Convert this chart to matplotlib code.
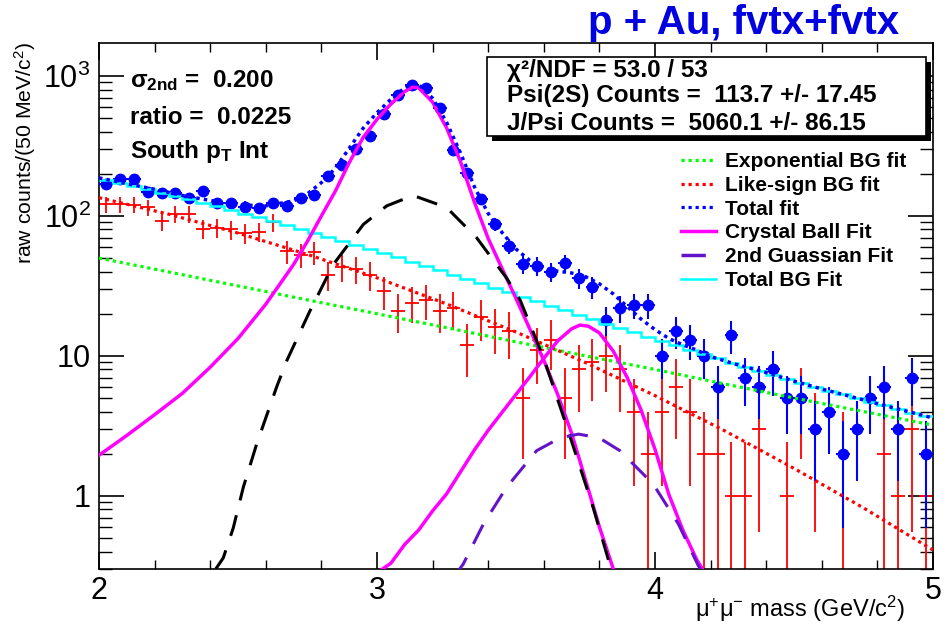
import numpy as np
import matplotlib
matplotlib.use('Agg')
import matplotlib.pyplot as plt
from matplotlib.patches import Rectangle
from matplotlib.lines import Line2D
from matplotlib.ticker import FixedLocator, FixedFormatter, MultipleLocator, LogLocator, NullFormatter

plt.rcParams['font.family'] = ['Liberation Sans', 'DejaVu Sans']
plt.rcParams['mathtext.fontset'] = 'custom'
plt.rcParams['mathtext.rm'] = 'Liberation Sans'
plt.rcParams['mathtext.it'] = 'Liberation Sans:italic'
plt.rcParams['mathtext.bf'] = 'Liberation Sans:bold'

# 50 MeV bins, 2 - 5 GeV
bin_edges = np.linspace(2.0, 5.0, 61)
bin_centers = 0.5 * (bin_edges[:-1] + bin_edges[1:])

unlike_counts = [170, 183, 183, 147, 145, 145, 135, 151, 124, 124,
                 116, 114, 123, 118, 134, 141, 193, 231, 300, 373,
                 532, 731, 855, 820, 590, 296, 204, 132, 87, 61,
                 45, 44, 40, 46, 36, 31, 18, 22, 23, 23,
                 10, 15, 13, 10, 6, 14, 7, 6, 8, 5,
                 5, 3, 4, 2, 3, 5, 6, 3, 7, 2]

likesign_counts = [121, 121, 120, 115, 92, 104, 104, 81, 82, 80,
                   75, 77, 90, 56, 53, 55, 38, 43, 42, 38,
                   29, 21, 24, 25, 21, 22, 12, 19, 16, 15,
                   5, 11, 13, 5, 8, 9, 10, 8, 4, 2,
                   4, 6, 4, 2, 2, 1, 1, 3, 0, 1,
                   5, 3, 0, 2, 0, 0, 2, 1, 3, 1]

total_bg_fit = [180.7, 171.8, 163.0, 154.8, 146.6, 138.9, 131.4, 124.0, 117.1, 110.4,
                103.8, 97.6, 91.8, 86.2, 80.8, 75.8, 71.0, 66.4, 62.0, 58.1,
                54.1, 50.6, 47.1, 43.9, 40.9, 38.1, 35.5, 33.0, 30.7, 28.4,
                26.5, 24.6, 22.9, 21.2, 19.7, 18.3, 17.0, 15.9, 14.8, 13.7,
                12.7, 11.9, 11.0, 10.3, 9.6, 8.95, 8.34, 7.85, 7.3, 6.88,
                6.38, 6.0, 5.64, 5.3, 4.98, 4.7, 4.43, 4.17, 3.93, 3.71]

exp_bg_x = [2.0, 2.25, 2.5, 2.75, 3.0, 3.25, 3.5, 3.75, 4.0, 4.25, 4.5, 4.75, 5.0]
exp_bg_y = [50, 39.8, 31.6, 25.1, 20.0, 15.9, 12.6, 10.0, 8.0, 6.3, 5.0, 4.0, 3.2]

ls_bg_x = [2.0, 2.25, 2.5, 2.75, 3.0, 3.25, 3.5, 3.75, 4.0, 4.25, 4.5, 4.75, 5.0]
ls_bg_y = [135, 103, 75.4, 53.1, 36.1, 23.5, 14.8, 8.95, 5.2, 2.92, 1.57, 0.82, 0.41]

total_fit_x = [2.0, 2.1, 2.2, 2.3, 2.4, 2.5, 2.6, 2.7, 2.75, 2.8, 2.85, 2.9, 2.95, 3.0, 3.05,
               3.1, 3.13, 3.15, 3.2, 3.25, 3.3, 3.35, 3.4, 3.45, 3.5, 3.55, 3.6, 3.65, 3.7,
               3.75, 3.8, 3.85, 3.9, 3.95, 4.0, 4.05, 4.1, 4.15, 4.2, 4.3, 4.4, 4.5, 4.6,
               4.7, 4.8, 4.9, 5.0]
total_fit_y = [187, 170, 155, 140, 129, 120, 118, 128, 144, 173, 219, 304, 423, 546, 682,
               825, 883, 868, 693, 468, 283, 162, 104, 76, 58, 48, 42.5, 40.3, 39.1,
               36.8, 32.7, 27.7, 22.5, 18.3, 15.4, 13.3, 12.0, 11.0, 9.9, 8.6, 7.6, 6.6, 5.8,
               5.15, 4.55, 4.05, 3.6]

jpsi_cb_x = [2.0, 2.1, 2.2, 2.3, 2.4, 2.5, 2.6, 2.7, 2.75, 2.8, 2.85, 2.9, 2.95, 3.0, 3.05,
             3.1, 3.13, 3.15, 3.2, 3.25, 3.3, 3.35, 3.4, 3.45, 3.5, 3.55, 3.6, 3.65, 3.7,
             3.75, 3.8, 3.85]
jpsi_cb_y = [1.95, 2.7, 3.8, 5.4, 8.3, 13.3, 23.4, 45, 66, 100, 150, 240, 363, 490, 630,
             776, 835, 822, 650, 427, 245, 126, 69, 42, 25.7, 15.5, 9.3, 5.3, 2.8,
             1.3, 0.6, 0.3]

psi2s_cb_x = [3.02, 3.05, 3.1, 3.15, 3.2, 3.25, 3.3, 3.35, 3.4, 3.45, 3.5, 3.55, 3.6, 3.65,
              3.7, 3.73, 3.76, 3.8, 3.85, 3.9, 3.95, 4.0, 4.05, 4.1, 4.15, 4.175]
psi2s_cb_y = [0.3, 0.33, 0.45, 0.57, 0.78, 1.03, 1.48, 2.12, 2.94, 3.95, 5.3, 7.1, 9.6, 12.8,
              15.6, 16.6, 16.3, 14.6, 10.8, 7.0, 4.1, 2.15, 1.02, 0.57, 0.35, 0.29]

jpsi_gaus2_x = [2.42, 2.447, 2.483, 2.519, 2.567, 2.639, 2.675, 2.759, 2.843, 2.951, 3.035,
                3.13, 3.25, 3.358, 3.466, 3.515, 3.599, 3.68, 3.778, 3.84]
jpsi_gaus2_y = [0.3, 0.36, 0.59, 1.15, 2.34, 6.0, 9.2, 21, 45, 87, 118,
                140, 115, 70, 36, 25, 9.7, 3.25, 0.82, 0.31]

psi2s_gaus2_x = [3.28, 3.31, 3.383, 3.466, 3.574, 3.66, 3.725, 3.8, 3.874, 3.994, 4.084, 4.156, 4.18]
psi2s_gaus2_y = [0.27, 0.325, 0.63, 1.15, 2.1, 2.6, 2.76, 2.59, 2.1, 1.21, 0.63, 0.316, 0.27]

W, H = 950, 626


def fx(px):
    return px / W


def fy(py):
    return 1 - py / H


fig = plt.figure(figsize=(9.5, 6.26), dpi=100)
ax = fig.add_axes([fx(99), fy(569), fx(933) - fx(99), fy(43) - fy(569)])
ax.set_yscale('log')

# like-sign data (red crosses)
red = np.array(likesign_counts, float)
m = red > 0
red_err = np.sqrt(2 * red[m])
red_lo = np.minimum(red_err, 0.999 * red[m])
ax.errorbar(bin_centers[m], red[m], yerr=[red_lo, red_err], xerr=0.025, fmt='none',
            ecolor='#ff0000', elinewidth=1.3, capsize=0, zorder=2)

# unlike-sign data (blue points)
blue = np.array(unlike_counts, float)
ax.errorbar(bin_centers, blue, yerr=np.sqrt(blue), xerr=0.025, fmt='o', color='#0000ff',
            ms=7.5, elinewidth=1.5, capsize=0, zorder=3)

dots = (0, (1, 1.2))
ax.plot(exp_bg_x, exp_bg_y, color='#00ff00', lw=2.3, ls=dots, zorder=4)
ax.plot(ls_bg_x, ls_bg_y, color='#ff0000', lw=2.3, ls=dots, zorder=4)
ax.stairs(total_bg_fit, bin_edges, baseline=None, color='#00ffff', lw=1.8, zorder=4)
ax.plot(jpsi_cb_x, jpsi_cb_y, color='#ff00ff', lw=2.5, zorder=5)
ax.plot(psi2s_cb_x, psi2s_cb_y, color='#ff00ff', lw=2.5, zorder=5)
ax.plot(total_fit_x, total_fit_y, color='#0000ff', lw=2.5, ls=dots, zorder=5)
ax.plot(jpsi_gaus2_x, jpsi_gaus2_y, color='black', lw=2.2, ls=(0, (7, 5)), zorder=6)
ax.plot(psi2s_gaus2_x, psi2s_gaus2_y, color='#6414c8', lw=2.2, ls=(0, (7, 5)), zorder=6)

ax.set_xlim(2, 5)
ax.set_ylim(0.3, 1720)
ax.xaxis.set_major_locator(MultipleLocator(1))
ax.xaxis.set_minor_locator(MultipleLocator(0.2))
ax.yaxis.set_major_locator(FixedLocator([1, 10, 100, 1000]))
ax.yaxis.set_major_formatter(FixedFormatter(['1', '10', '$10^{2}$', '$10^{3}$']))
ax.yaxis.set_minor_locator(LogLocator(base=10, subs=np.arange(2, 10), numticks=20))
ax.yaxis.set_minor_formatter(NullFormatter())
ax.tick_params(which='both', direction='in', top=True, right=True)
ax.tick_params(axis='x', which='major', length=12, width=1.2, labelsize=22, pad=5)
ax.tick_params(axis='x', which='minor', length=6.5, width=1.0)
ax.tick_params(axis='y', which='major', length=18, width=1.2, labelsize=22, pad=6)
ax.tick_params(axis='y', which='minor', length=9.5, width=1.0)
for s in ax.spines.values():
    s.set_linewidth(1.2)

handles = [
    Line2D([], [], color='#00ff00', lw=2.3, ls=dots),
    Line2D([], [], color='#ff0000', lw=2.3, ls=dots),
    Line2D([], [], color='#0000ff', lw=2.3, ls=dots),
    Line2D([], [], color='#ff00ff', lw=2.5),
    Line2D([], [], color='#6414c8', lw=2.5, ls=(0, (7, 5))),
    Line2D([], [], color='#00ffff', lw=1.8),
]
labels = ['Exponential BG fit', 'Like-sign BG fit', 'Total fit', 'Crystal Ball Fit',
          '2nd Guassian Fit', 'Total BG Fit']
fig.legend(handles, labels, loc='upper left', bbox_to_anchor=(fx(681), fy(152)),
           frameon=False, prop={'weight': 'bold', 'size': 15}, handlelength=1.7,
           handletextpad=0.4, labelspacing=0.23, borderpad=0, borderaxespad=0)

# stat box with shadow
fig.add_artist(Rectangle((fx(492), fy(141)), fx(439), fy(0) - fy(79),
                         transform=fig.transFigure, facecolor='black', edgecolor='none'))
fig.add_artist(Rectangle((fx(487), fy(136)), fx(439), fy(0) - fy(79),
                         transform=fig.transFigure, facecolor='white', edgecolor='black', lw=1.2))
box_kw = dict(fontsize=17.5, fontweight='bold', va='baseline', ha='left')
fig.text(fx(507), fy(77), 'χ²/NDF = 53.0 / 53', **box_kw)
fig.text(fx(507), fy(102), 'Psi(2S) Counts =  113.7 +/- 17.45', **box_kw)
fig.text(fx(507), fy(130), 'J/Psi Counts =  5060.1 +/- 86.15', **box_kw)

fig.text(fx(130), fy(87), r'σ$_{\mathbf{2nd}}$ =  0.200', **box_kw)
fig.text(fx(130), fy(124), 'ratio =  0.0225', **box_kw)
fig.text(fx(130), fy(158), r'South p$_{\mathbf{T}}$ Int', **box_kw)

fig.text(fx(744), fy(34), 'p + Au, fvtx+fvtx', color='#0000e0', fontsize=29,
         fontweight='bold', ha='center', va='baseline')

fig.text(fx(905), fy(617), 'μ$^{+}$μ$^{-}$ mass (GeV/c$^{2}$)', fontsize=17,
         ha='right', va='baseline')
fig.text(fx(25), fy(42), 'raw counts/(50 MeV/c$^{2}$)', fontsize=15.3, rotation=90,
         ha='center', va='top')

fig.savefig('out.png', dpi=100)
